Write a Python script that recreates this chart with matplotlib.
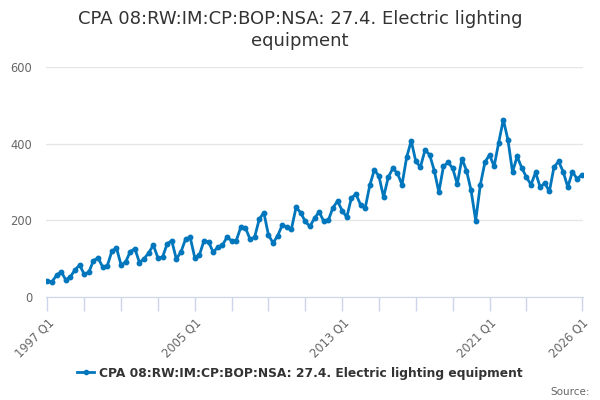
import matplotlib
matplotlib.use("Agg")
import matplotlib.pyplot as plt
from matplotlib.lines import Line2D

# quarterly values, 1997 Q1 .. 2026 Q1
values = [
    41.8, 40, 56.6, 66, 44.4, 53, 70.6, 83.6, 59, 64.5,
    95, 102, 78.4, 81, 119.4, 128, 83.6, 91.5, 118.5, 126,
    89.8, 100, 115, 135.5, 102, 103.7, 138.5, 147, 99, 117.6,
    150.7, 156, 102.8, 109, 147, 143.8, 116.8, 130, 135, 156,
    147, 147, 182, 181, 150.7, 156, 203, 220, 162, 141,
    159.5, 188, 182, 178, 234, 220, 197, 184, 205.6, 222,
    198, 200, 233, 250, 225.6, 208, 258, 268.5, 240.5, 232,
    291, 332, 315, 260.5, 312, 335.5, 323, 292.8, 364, 407.8,
    353.7, 339, 383.4, 371, 330, 273.6, 340.6, 351, 336, 294.6,
    360.7, 330, 277.9, 199.5, 292, 351, 371, 340.6, 403, 462.7,
    410, 326, 366.8, 337, 313, 292.8, 325, 286.7, 297, 275.3,
    339, 353.7, 326.8, 286.7, 326.8, 308.5, 318,
]
quarters = []
for yr in range(1997, 2027):
    for q in range(1, 5):
        quarters.append(f"{yr} Q{q}")
quarters = quarters[:len(values)]

tick_idx = list(range(0, 105, 8)) + [len(values) - 1]
label_names = ["1997 Q1", "2005 Q1", "2013 Q1", "2021 Q1", "2026 Q1"]
yticks = [0, 200, 400, 600]

title = "CPA 08:RW:IM:CP:BOP:NSA: 27.4. Electric lighting\nequipment"
series_name = "CPA 08:RW:IM:CP:BOP:NSA: 27.4. Electric lighting equipment"
blue = "#0076bd"

fig = plt.figure(figsize=(6, 4), dpi=100)
ax = fig.add_axes([46/600, 103/400, 537/600, 230/400])

x = list(range(len(values)))
ax.plot(x, values, color=blue, lw=2, marker="o", ms=3.2, zorder=3)

ax.set_ylim(0, 600)
ax.set_xlim(-0.3, len(values) - 0.7)
ax.set_yticks(yticks)
ax.set_yticklabels([str(v) for v in yticks])
ax.yaxis.grid(True, color="#e6e6e6", lw=1)
ax.set_axisbelow(True)

ax.set_xticks(tick_idx)
ax.set_xticklabels([quarters[i] if quarters[i] in label_names else "" for i in tick_idx],
                   rotation=45, ha="right", rotation_mode="anchor")

for s in ["top", "right", "left"]:
    ax.spines[s].set_visible(False)
ax.spines["bottom"].set_color("#ccd6eb")
ax.tick_params(axis="x", colors="#ccd6eb", length=10, width=1, labelcolor="#666666",
               labelsize=8.3, pad=4)
ax.tick_params(axis="y", length=0, labelcolor="#666666", labelsize=8.3, pad=10)

fig.text(0.5, 1 - 10/400, title, ha="center", va="top", fontsize=13, color="#333333",
         linespacing=1.25)

handle = Line2D([0], [0], color=blue, lw=2, marker="o", ms=3)
fig.legend([handle], [series_name], loc="center", bbox_to_anchor=(0.5, 27/400),
           frameon=False, handlelength=1.4, handletextpad=0.4,
           prop={"size": 8.8, "weight": "bold"}, labelcolor="#333333")

fig.text(590/600, 8/400, "Source:", ha="right", va="center", fontsize=7.5, color="#666666")

fig.savefig("out.png", dpi=100)
